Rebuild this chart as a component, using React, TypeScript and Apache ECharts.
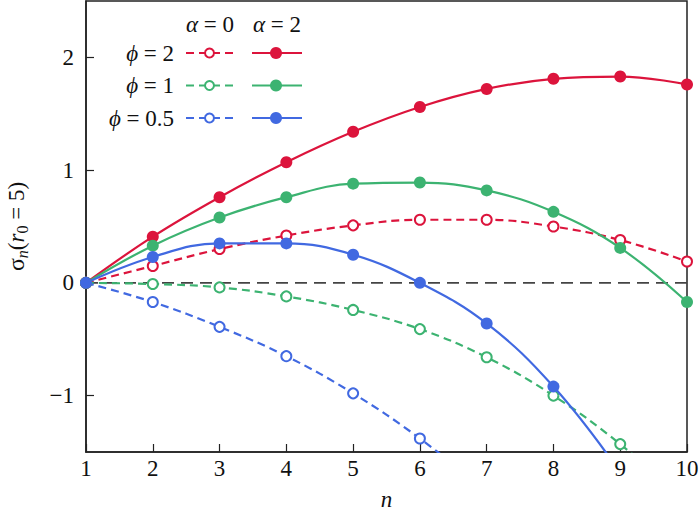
import React, { useEffect, useRef } from 'react';
import * as echarts from 'echarts';

const nValues = [1, 2, 3, 4, 5, 6, 7, 8, 9, 10];
// sigma_n(r0 = 5)
const phi2Alpha0 = [0, 0.15, 0.3, 0.42, 0.51, 0.56, 0.56, 0.5, 0.38, 0.19];
const phi2Alpha2 = [0, 0.41, 0.76, 1.07, 1.34, 1.56, 1.72, 1.81, 1.83, 1.76];
const phi1Alpha0 = [0, -0.01, -0.04, -0.12, -0.24, -0.41, -0.66, -1.0, -1.43, -1.95];
const phi1Alpha2 = [0, 0.33, 0.58, 0.76, 0.88, 0.89, 0.82, 0.63, 0.31, -0.17];
const phi05Alpha0 = [0, -0.17, -0.39, -0.65, -0.98, -1.38, -1.85, null, null, null];
const phi05Alpha2 = [0, 0.23, 0.35, 0.35, 0.25, 0.0, -0.36, -0.92, -1.68, null];
const xTicks = [1, 2, 3, 4, 5, 6, 7, 8, 9, 10];
const yTicks = [-1, 0, 1, 2];
const phiLabels = ['2', '1', '0.5'];
const alphaLabels = ['0', '2'];

const RED = '#dc143c';
const GREEN = '#3cb371';
const BLUE = '#4169e1';
const FONT = "'Liberation Serif', 'Times New Roman', 'DejaVu Serif', serif";
const FS = 23;

export default function App() {
  const ref = useRef<HTMLDivElement>(null);
  useEffect(() => {
    const chart = echarts.init(ref.current as HTMLDivElement, null, { renderer: 'svg' });

    const mk = (name: string, vals: (number | null)[], color: string, open: boolean) => ({
      name,
      type: 'line',
      data: nValues.map((n, i) => [n, vals[i]]),
      smooth: 0.4,
      symbol: open ? 'emptyCircle' : 'circle',
      symbolSize: open ? 10 : 12,
      showSymbol: true,
      connectNulls: false,
      clip: true,
      z: open ? 3 : 4,
      lineStyle: { color, width: 2.2, type: open ? [8, 5] : 'solid' },
      itemStyle: open
        ? { color, borderColor: color, borderWidth: 2 }
        : { color, borderWidth: 0 },
      emphasis: { disabled: true },
    });

    const rowY = [53, 85.5, 118];
    const colors = [RED, GREEN, BLUE];
    const legend: any[] = [];
    const mathRich = {
      i: { fontFamily: FONT, fontStyle: 'italic', fontSize: FS, color: '#111' },
      t: { fontFamily: FONT, fontSize: FS, color: '#111' },
    };
    alphaLabels.forEach((a, k) => {
      legend.push({
        type: 'text',
        x: k === 0 ? 210 : 277,
        y: 24,
        style: {
          text: `{i|α}{t| = ${a}}`,
          rich: mathRich,
          fontFamily: FONT,
          fontSize: FS,
          fill: '#111',
          align: 'center',
          verticalAlign: 'middle',
        },
      });
    });
    phiLabels.forEach((p, k) => {
      const y = rowY[k];
      const c = colors[k];
      legend.push({
        type: 'text',
        x: 174,
        y,
        style: {
          text: `{i|ϕ}{t| = ${p}}`,
          rich: mathRich,
          fontFamily: FONT,
          fontSize: FS,
          fill: '#111',
          align: 'right',
          verticalAlign: 'middle',
        },
      });
      legend.push({
        type: 'line',
        shape: { x1: 186, y1: y, x2: 233, y2: y },
        style: { stroke: c, lineWidth: 2.2, lineDash: [8, 5] },
      });
      legend.push({
        type: 'circle',
        shape: { cx: 209.5, cy: y, r: 4.5 },
        style: { fill: '#fff', stroke: c, lineWidth: 2 },
      });
      legend.push({
        type: 'line',
        shape: { x1: 252, y1: y, x2: 302, y2: y },
        style: { stroke: c, lineWidth: 2.2 },
      });
      legend.push({
        type: 'circle',
        shape: { cx: 276, cy: y, r: 6 },
        style: { fill: c },
      });
    });

    chart.setOption({
      animation: false,
      backgroundColor: '#fff',
      textStyle: { fontFamily: FONT },
      grid: {
        left: 86,
        right: 13,
        top: 1,
        bottom: 59,
        containLabel: false,
        outerBoundsMode: 'none',
        show: true,
        borderColor: '#222',
        borderWidth: 1.5,
        backgroundColor: 'transparent',
      },
      xAxis: {
        type: 'value',
        min: 1,
        max: 10,
        interval: 1,
        name: 'n',
        nameLocation: 'middle',
        nameGap: 38,
        nameTextStyle: {
          fontFamily: FONT,
          fontStyle: 'italic',
          fontSize: FS,
          lineHeight: 18,
          color: '#111',
        },
        axisLine: { show: true, onZero: false, lineStyle: { color: '#222', width: 1.5 } },
        axisTick: { show: true, inside: true, length: 8, lineStyle: { color: '#222', width: 1.2 } },
        axisLabel: {
          fontFamily: FONT,
          fontSize: FS,
          color: '#111',
          margin: 5,
          customValues: xTicks,
        },
        splitLine: { show: false },
      },
      yAxis: {
        type: 'value',
        min: -1.5,
        max: 2.5,
        interval: 0.5,
        name: '{s|σ}{si|n}{p|(}{i|r}{sb|0}{p| = 5)}',
        nameLocation: 'middle',
        nameGap: 56,
        nameRotate: 90,
        nameTextStyle: {
          fontFamily: FONT,
          fontSize: FS,
          color: '#111',
          rich: {
            s: { fontFamily: FONT, fontSize: FS + 1, color: '#111' },
            p: { fontFamily: FONT, fontSize: FS, color: '#111' },
            i: { fontFamily: FONT, fontSize: FS, fontStyle: 'italic', color: '#111' },
            si: { fontFamily: FONT, fontSize: 16, fontStyle: 'italic', color: '#111', padding: [12, 0, 0, 0] },
            sb: { fontFamily: FONT, fontSize: 16, color: '#111', padding: [12, 0, 0, 0] },
          },
        },
        axisLine: { show: true, onZero: false, lineStyle: { color: '#222', width: 1.5 } },
        axisTick: {
          show: true,
          inside: true,
          length: 8,
          lineStyle: { color: '#222', width: 1.2 },
          customValues: yTicks,
        },
        axisLabel: {
          fontFamily: FONT,
          fontSize: FS,
          color: '#111',
          margin: 12,
          customValues: yTicks,
          formatter: (v: number) => String(v).replace('-', '\u2212'),
        },
        splitLine: { show: false },
      },
      graphic: legend,
      series: [
        {
          name: 'zero',
          type: 'line',
          data: [
            [1, 0],
            [10, 0],
          ],
          symbol: 'none',
          lineStyle: { color: '#444', width: 1.6, type: [12, 7] },
          z: 1,
          silent: true,
        },
        mk('phi2a0', phi2Alpha0, RED, true),
        mk('phi1a0', phi1Alpha0, GREEN, true),
        mk('phi05a0', phi05Alpha0, BLUE, true),
        mk('phi2a2', phi2Alpha2, RED, false),
        mk('phi1a2', phi1Alpha2, GREEN, false),
        mk('phi05a2', phi05Alpha2, BLUE, false),
      ],
    });
    return () => chart.dispose();
  }, []);
  return (
    <div
      ref={ref}
      style={{ position: 'fixed', left: 0, top: 0, width: 700, height: 511, background: '#fff' }}
    />
  );
}
